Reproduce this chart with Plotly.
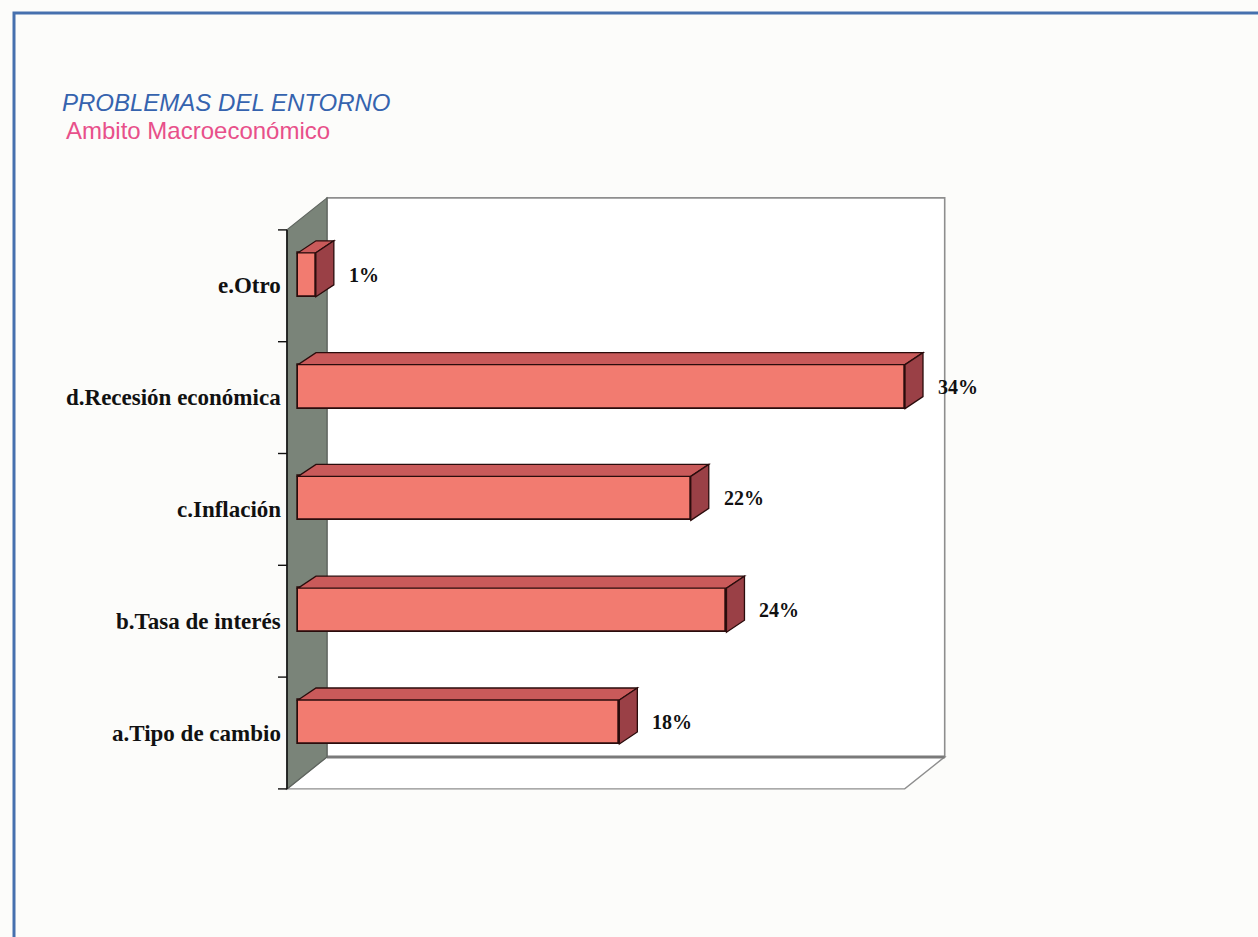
import plotly.graph_objects as go

# ---------------- data ----------------
categories = ["a.Tipo de cambio", "b.Tasa de interés", "c.Inflación",
              "d.Recesión económica", "e.Otro"]
values = [18, 24, 22, 34, 1]
value_labels = ["18%", "24%", "22%", "34%", "1%"]
title_main = "PROBLEMAS DEL ENTORNO"
title_sub = "Ambito Macroeconómico"
x_max = 34.6  # extent of the value axis (walls)

# ---------------- layout geometry ----------------
W, H = 1258, 937
PX_PER_UNIT = 17.853
PX_PER_CAT = 111.8
X0_PX = 298
Y0_PX = 722


def ux(p):
    return p / PX_PER_UNIT


def uy(p):
    return p / PX_PER_CAT


x_range = [-X0_PX / PX_PER_UNIT, (W - X0_PX) / PX_PER_UNIT]
y_range = [(Y0_PX - H) / PX_PER_CAT, Y0_PX / PX_PER_CAT]

pos = list(range(len(categories)))
half = uy(22)
bar_dx, bar_dy = ux(18), uy(12)
fx, fy = -ux(11), -uy(11)      # front plane offset (relative to bar plane)
bx, by = ux(40), uy(32)        # back plane offset (relative to front plane)
yb = -0.5 + fy
yt = len(categories) - 0.5 + fy

FRONT = "#F27B70"
TOP = "#C95A5A"
SIDE = "#9A4046"
EDGE = "#2A0C0C"
WALL = "#7A8479"
FRAME = "#8E8E8E"


def path(pts):
    return "M " + " L ".join(f"{x},{y}" for x, y in pts) + " Z"


shapes = []
# back wall
shapes.append(dict(type="path", xref="x", yref="y", layer="below",
                   path=path([(fx + bx, yb + by), (fx + bx, yt + by),
                              (fx + bx + x_max, yt + by), (fx + bx + x_max, yb + by)]),
                   fillcolor="white", line=dict(color=FRAME, width=1.6)))
# floor
shapes.append(dict(type="path", xref="x", yref="y", layer="below",
                   path=path([(fx, yb), (fx + bx, yb + by),
                              (fx + bx + x_max, yb + by), (fx + x_max, yb)]),
                   fillcolor="white", line=dict(color=FRAME, width=1.4)))
shapes.append(dict(type="line", xref="x", yref="y", layer="below",
                   x0=fx + bx, y0=yb + by, x1=fx + bx + x_max, y1=yb + by,
                   line=dict(color="#7A7A7A", width=3)))
# left wall
shapes.append(dict(type="path", xref="x", yref="y", layer="below",
                   path=path([(fx, yb), (fx, yt), (fx + bx, yt + by), (fx + bx, yb + by)]),
                   fillcolor=WALL, line=dict(color="#5E645E", width=1.2)))
# axis line and ticks
shapes.append(dict(type="line", xref="x", yref="y", layer="below",
                   x0=fx, y0=yb, x1=fx, y1=yt, line=dict(color="#111", width=1.6)))
for k in range(len(categories) + 1):
    shapes.append(dict(type="line", xref="x", yref="y", layer="below",
                       x0=fx - ux(9), y0=yb + k, x1=fx, y1=yb + k,
                       line=dict(color="#111", width=1.4)))

# bar top and side faces
for i, v in zip(pos, values):
    shapes.append(dict(type="path", xref="x", yref="y", layer="above",
                       path=path([(0, i + half), (v, i + half),
                                  (v + bar_dx, i + half + bar_dy), (bar_dx, i + half + bar_dy)]),
                       fillcolor=TOP, line=dict(color=EDGE, width=1.3)))
    shapes.append(dict(type="path", xref="x", yref="y", layer="above",
                       path=path([(v, i - half), (v + bar_dx, i - half + bar_dy),
                                  (v + bar_dx, i + half + bar_dy), (v, i + half)]),
                       fillcolor=SIDE, line=dict(color=EDGE, width=1.3)))

# blue outer frame
shapes.append(dict(type="rect", xref="paper", yref="paper",
                   x0=14 / W, y0=1 - 13 / H, x1=1.05, y1=-0.05,
                   line=dict(color="#4670AE", width=3), fillcolor="rgba(0,0,0,0)"))

fig = go.Figure()
fig.add_trace(go.Bar(
    x=values, y=pos, orientation="h", width=2 * half, base=0,
    marker=dict(color=FRONT, line=dict(color=EDGE, width=1.7)),
    hoverinfo="skip", showlegend=False,
))

annotations = []
for i, lab in zip(pos, categories):
    annotations.append(dict(x=fx - ux(4), y=i + fy, xref="x", yref="y",
                            text=f"<b>{lab}</b>", showarrow=False,
                            xanchor="right", yanchor="middle",
                            font=dict(family="Liberation Serif", size=23, color="#111")))
for i, v, lab in zip(pos, values, value_labels):
    annotations.append(dict(x=v + bar_dx + ux(13), y=i, xref="x", yref="y",
                            text=f"<b>{lab}</b>", showarrow=False,
                            xanchor="left", yanchor="middle",
                            font=dict(family="Liberation Serif", size=20, color="#111")))
annotations.append(dict(x=60 / W, y=1 - 102 / H, xref="paper", yref="paper",
                        text=f"<i>{title_main}</i>", showarrow=False,
                        xanchor="left", yanchor="middle",
                        font=dict(family="Liberation Sans", size=24, color="#3563AE")))
annotations.append(dict(x=64 / W, y=1 - 130 / H, xref="paper", yref="paper",
                        text=title_sub, showarrow=False,
                        xanchor="left", yanchor="middle",
                        font=dict(family="Liberation Sans", size=24, color="#E8508A")))

fig.update_layout(
    width=W, height=H, autosize=False,
    margin=dict(l=0, r=0, t=0, b=0, pad=0),
    paper_bgcolor="#FCFCFA", plot_bgcolor="rgba(0,0,0,0)",
    xaxis=dict(range=x_range, visible=False, fixedrange=True),
    yaxis=dict(range=y_range, visible=False, fixedrange=True),
    shapes=shapes, annotations=annotations,
    bargap=0,
)

fig.write_html("out.html")
